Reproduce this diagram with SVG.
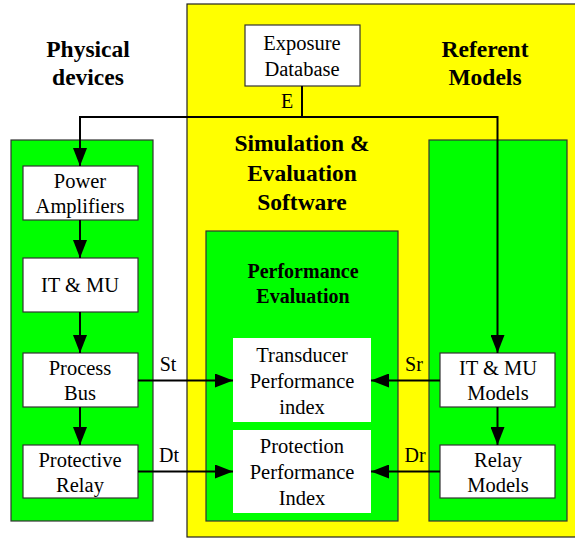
<svg xmlns="http://www.w3.org/2000/svg" width="575" height="539" viewBox="0 0 575 539" font-family="'Liberation Serif', 'Times New Roman', 'DejaVu Serif', serif">
<defs>
<marker id="ah" markerWidth="18" markerHeight="14" refX="18" refY="7" orient="auto" markerUnits="userSpaceOnUse">
<path d="M0,0 L18,7 L0,14 Z" fill="#000"/>
</marker>
<style>
.bg{fill:#fff}
.yel{fill:#ffff00;stroke:#222;stroke-width:1.2}
.grn{fill:#00ff00;stroke:#333;stroke-width:1.2}
.box{fill:#fff;stroke:#333;stroke-width:1.2}
.wbox{fill:#fff}
text{font-family:'Liberation Serif','Times New Roman','DejaVu Serif',serif}
.t{font-size:20.5px;fill:#000;text-anchor:middle}
.h{font-size:23.5px;font-weight:bold;fill:#000;text-anchor:middle}
.h2{font-size:20px;font-weight:bold;fill:#000;text-anchor:middle}
.l{font-size:20px;fill:#000;text-anchor:middle}
.c{fill:none;stroke:#000;stroke-width:2}
</style>
</defs>
<rect class="bg" x="0" y="0" width="575" height="539"/>
<g id="simulation-software">
<rect class="yel" x="187" y="4" width="400" height="533"/>
<text class="h" x="302" y="151">Simulation &amp;</text>
<text class="h" x="302" y="181">Evaluation</text>
<text class="h" x="302" y="210">Software</text>
<text class="h" x="485" y="57">Referent</text>
<text class="h" x="485" y="85">Models</text>
</g>
<g id="physical-devices-title">
<text class="h" x="88" y="57">Physical</text>
<text class="h" x="88" y="85">devices</text>
</g>
<g id="physical-devices">
<rect class="grn" x="11" y="140" width="142" height="381"/>
</g>
<g id="referent-models">
<rect class="grn" x="429" y="140" width="138" height="381"/>
</g>
<g id="performance-evaluation">
<rect class="grn" x="206" y="231" width="192" height="290"/>
<text class="h2" x="303" y="278">Performance</text>
<text class="h2" x="303" y="303">Evaluation</text>
</g>
<g id="exposure-database">
<rect class="box" x="245" y="25" width="115" height="61"/>
<text class="t" x="302" y="50">Exposure</text>
<text class="t" x="302" y="76">Database</text>
</g>
<g id="power-amplifiers">
<rect class="box" x="23" y="166" width="115" height="54"/>
<text class="t" x="80" y="188">Power</text>
<text class="t" x="80" y="213">Amplifiers</text>
</g>
<g id="it-mu">
<rect class="box" x="23" y="258" width="115" height="54"/>
<text class="t" x="80" y="292">IT &amp; MU</text>
</g>
<g id="process-bus">
<rect class="box" x="23" y="353" width="115" height="54"/>
<text class="t" x="80" y="375">Process</text>
<text class="t" x="80" y="400">Bus</text>
</g>
<g id="protective-relay">
<rect class="box" x="23" y="445" width="115" height="53"/>
<text class="t" x="80" y="467">Protective</text>
<text class="t" x="80" y="492">Relay</text>
</g>
<g id="transducer-index">
<rect class="wbox" x="233" y="338" width="138" height="84"/>
<text class="t" x="302" y="362">Transducer</text>
<text class="t" x="302" y="388">Performance</text>
<text class="t" x="302" y="414">index</text>
</g>
<g id="protection-index">
<rect class="wbox" x="233" y="430" width="138" height="83"/>
<text class="t" x="302" y="453">Protection</text>
<text class="t" x="302" y="479">Performance</text>
<text class="t" x="302" y="505">Index</text>
</g>
<g id="it-mu-models">
<rect class="box" x="440" y="353" width="115" height="54"/>
<text class="t" x="498" y="375">IT &amp; MU</text>
<text class="t" x="498" y="400">Models</text>
</g>
<g id="relay-models">
<rect class="box" x="440" y="445" width="115" height="53"/>
<text class="t" x="498" y="467">Relay</text>
<text class="t" x="498" y="492">Models</text>
</g>
<g id="connectors">
<path class="c" d="M302,86 V117"/>
<path class="c" d="M302,117 H80 V166" marker-end="url(#ah)"/>
<path class="c" d="M302,117 H497.5 V353" marker-end="url(#ah)"/>
<path class="c" d="M80,220 V258" marker-end="url(#ah)"/>
<path class="c" d="M80,312 V353" marker-end="url(#ah)"/>
<path class="c" d="M80,407 V445" marker-end="url(#ah)"/>
<path class="c" d="M497.5,407 V445" marker-end="url(#ah)"/>
<path class="c" d="M138,380.5 H233" marker-end="url(#ah)"/>
<path class="c" d="M138,471.5 H233" marker-end="url(#ah)"/>
<path class="c" d="M440,380.5 H371" marker-end="url(#ah)"/>
<path class="c" d="M440,471.5 H371" marker-end="url(#ah)"/>
<text class="l" x="287" y="108">E</text>
<text class="l" x="168" y="371">St</text>
<text class="l" x="169" y="462">Dt</text>
<text class="l" x="414" y="371">Sr</text>
<text class="l" x="415" y="462">Dr</text>
</g>
</svg>
